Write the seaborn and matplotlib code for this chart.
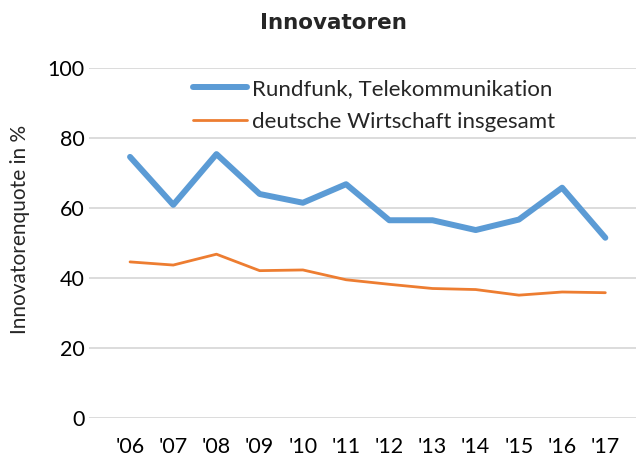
import matplotlib
matplotlib.use("Agg")
import matplotlib.pyplot as plt
import seaborn as sns
import pandas as pd

years = ["'06", "'07", "'08", "'09", "'10", "'11", "'12", "'13", "'14", "'15", "'16", "'17"]
rundfunk = [74.6, 60.9, 75.4, 64.0, 61.5, 66.8, 56.5, 56.5, 53.7, 56.7, 65.8, 51.5]
wirtschaft = [44.6, 43.7, 46.8, 42.1, 42.3, 39.5, 38.2, 37.0, 36.7, 35.1, 36.0, 35.8]

sns.set_style("white")
plt.rcParams['font.family'] = ['Lato', 'DejaVu Sans']

df = pd.DataFrame({"pos": range(len(years)), "rundfunk": rundfunk, "wirtschaft": wirtschaft})

W, H = 636, 457
fig = plt.figure(figsize=(6.36, 4.57), dpi=100)
# plot area in pixels: x 89..636, y 68..418
ax = fig.add_axes([89 / W, 1 - 418 / H, (636 - 89) / W, (418 - 68) / H])

sns.lineplot(data=df, x="pos", y="rundfunk", color="#5b9bd5",
             linewidth=4.3, ax=ax, label="Rundfunk, Telekommunikation")
sns.lineplot(data=df, x="pos", y="wirtschaft", color="#ed7d31",
             linewidth=2.0, ax=ax, label="deutsche Wirtschaft insgesamt")

ax.set_ylim(0, 100)
ax.set_xlim(-0.95, 11.71)
ax.set_yticks([0, 20, 40, 60, 80, 100])
ax.set_xticks(range(len(years)))
ax.set_xticklabels(years)
ax.yaxis.grid(True, color="#d9d9d9", linewidth=1.3)
ax.set_axisbelow(True)
for s in ax.spines.values():
    s.set_visible(False)
ax.tick_params(axis="both", length=0, labelsize=15.5, colors="black")
ax.tick_params(axis="y", pad=3)
ax.tick_params(axis="x", pad=14)
ax.set_xlabel("")
ax.set_ylabel("")
fig.text(20 / W, 1 - 229 / H, "Innovatorenquote in %", rotation=90, fontsize=15,
         ha="center", va="center")
fig.text(333 / W, 1 - 23 / H, "Innovatoren", fontsize=15.5, fontweight="bold",
         family="DejaVu Sans", ha="center", va="center")

leg = ax.legend(loc="upper left", bbox_to_anchor=(193 / W, 1 - 79 / H),
                bbox_transform=fig.transFigure, frameon=False, fontsize=16,
                handlelength=2.45, handletextpad=0.22, labelspacing=0.58,
                borderpad=0, borderaxespad=0)

fig.savefig("out.png", dpi=100)
